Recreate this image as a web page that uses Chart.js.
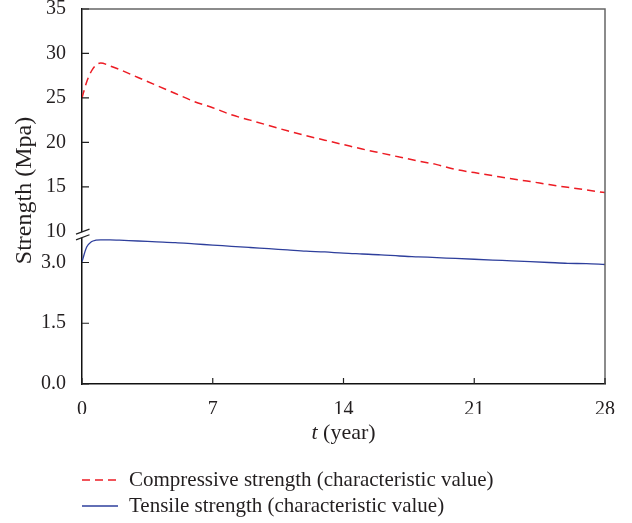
<!DOCTYPE html>
<html>
<head>
<meta charset="utf-8">
<script src="https://cdn.jsdelivr.net/npm/chart.js@4.4.1/dist/chart.umd.min.js"></script>
<style>
  html, body { margin: 0; padding: 0; background: #fff; }
</style>
</head>
<body>
<canvas id="chart" width="632" height="523"></canvas>
<script>
// === Data ===
const years = [0, 0.25, 0.5, 0.75, 1, 1.5, 2, 3, 4, 5, 6, 7, 8, 9, 10, 11, 12, 13, 14,
  15, 16, 17, 18, 19, 20, 21, 22, 23, 24, 25, 26, 27, 28];
const compressive = [25.0, 26.8, 28.0, 28.7, 28.93, 28.6, 28.2, 27.3, 26.4, 25.5, 24.6, 23.9,
  23.1, 22.5, 21.9, 21.3, 20.75, 20.25, 19.75, 19.25, 18.8, 18.35, 17.9, 17.5, 16.95, 16.6,
  16.25, 15.9, 15.6, 15.25, 14.95, 14.65, 14.35];
const tensile = [3.02, 3.38, 3.51, 3.55, 3.56, 3.56, 3.55, 3.53, 3.51, 3.49, 3.46, 3.43, 3.40,
  3.37, 3.34, 3.31, 3.28, 3.26, 3.23, 3.21, 3.19, 3.16, 3.14, 3.12, 3.10, 3.08, 3.06, 3.04,
  3.02, 3.00, 2.98, 2.97, 2.95];
const seriesNames = ["Compressive strength (characteristic value)", "Tensile strength (characteristic value)"];
const xTicks = [0, 7, 14, 21, 28];
const upperTicks = [10, 15, 20, 25, 30, 35];
const lowerTicks = [0, 1.5, 3.0];

const FONT = "'Liberation Serif', 'Times New Roman', serif";
const TEXT = "#231f20";

const toPoints = (vals) => years.map((t, i) => ({ x: t, y: vals[i] }));
const setTicks = (list) => (scale) => { scale.ticks = list.map(v => ({ value: v })); };
const fixY = (s) => { s.width = 82; s.paddingTop = 0; s.paddingBottom = 0; };

// === Frame, inward ticks, axis break, axis titles, legend ===
const decorations = {
  id: "decorations",
  afterDraw(chart) {
    const { ctx, chartArea: a, scales } = chart;
    ctx.save();

    // top / right frame
    ctx.strokeStyle = "#666";
    ctx.lineWidth = 1.5;
    ctx.beginPath();
    ctx.moveTo(a.left, a.top);
    ctx.lineTo(a.right, a.top);
    ctx.lineTo(a.right, a.bottom);
    ctx.stroke();

    // tick marks pointing inward
    ctx.strokeStyle = "#222";
    ctx.lineWidth = 1.2;
    ctx.beginPath();
    xTicks.forEach(v => {
      const x = scales.x.getPixelForValue(v);
      ctx.moveTo(x, a.bottom);
      ctx.lineTo(x, a.bottom - 6);
    });
    lowerTicks.forEach(v => {
      const y = scales.yLow.getPixelForValue(v);
      ctx.moveTo(a.left, y);
      ctx.lineTo(a.left + 7, y);
    });
    upperTicks.filter(v => v > 10).forEach(v => {
      const y = scales.yHigh.getPixelForValue(v);
      ctx.moveTo(a.left, y);
      ctx.lineTo(a.left + 7, y);
    });
    ctx.stroke();

    // axis break "//"
    const yb = scales.yHigh.bottom;
    const k = 0.376;
    const x0 = a.left - 6, x1 = a.left + 7.5;
    const y1 = (x) => yb + 0.6 - (x - a.left) * k;
    const y2 = (x) => yb + 6.3 - (x - a.left) * k;
    ctx.fillStyle = "#fff";
    ctx.beginPath();
    ctx.moveTo(x0, y1(x0));
    ctx.lineTo(x1, y1(x1));
    ctx.lineTo(x1, y2(x1));
    ctx.lineTo(x0, y2(x0));
    ctx.closePath();
    ctx.fill();
    ctx.strokeStyle = "#222";
    ctx.beginPath();
    ctx.moveTo(x0, y1(x0)); ctx.lineTo(x1, y1(x1));
    ctx.moveTo(x0, y2(x0)); ctx.lineTo(x1, y2(x1));
    ctx.stroke();

    // x title: italic t + " (year)"
    ctx.fillStyle = TEXT;
    ctx.textBaseline = "middle";
    ctx.textAlign = "left";
    const italic = "italic 22px " + FONT;
    const normal = "22px " + FONT;
    ctx.font = italic;
    const wT = ctx.measureText("t").width;
    ctx.font = normal;
    const wRest = ctx.measureText(" (year)").width;
    const xs = (a.left + a.right) / 2 - (wT + wRest) / 2;
    const yTitle = 433;
    ctx.font = italic;
    ctx.fillText("t", xs, yTitle);
    ctx.font = normal;
    ctx.fillText(" (year)", xs + wT, yTitle);

    // y title
    ctx.save();
    ctx.translate(25, (a.top + a.bottom) / 2 - 6);
    ctx.rotate(-Math.PI / 2);
    ctx.textAlign = "center";
    ctx.font = "24px " + FONT;
    ctx.fillText("Strength (Mpa)", 0, 0);
    ctx.restore();

    // legend
    chart.data.datasets.forEach((ds, i) => {
      const y = 480 + i * 26;
      ctx.strokeStyle = ds.borderColor;
      ctx.lineWidth = ds.borderWidth;
      ctx.setLineDash(ds.borderDash || []);
      ctx.beginPath();
      ctx.moveTo(a.left, y);
      ctx.lineTo(a.left + 36, y);
      ctx.stroke();
      ctx.setLineDash([]);
      ctx.fillStyle = TEXT;
      ctx.font = "21px " + FONT;
      ctx.textAlign = "left";
      ctx.fillText(ds.label, a.left + 47, y);
    });

    ctx.restore();
  }
};

const tickFont = { family: FONT, size: 20 };

new Chart(document.getElementById("chart"), {
  type: "line",
  data: {
    datasets: [
      {
        label: seriesNames[0],
        data: toPoints(compressive),
        yAxisID: "yHigh",
        borderColor: "#ed1c24",
        borderWidth: 1.5,
        borderDash: [8, 5],
        pointRadius: 0,
        cubicInterpolationMode: "monotone",
        fill: false
      },
      {
        label: seriesNames[1],
        data: toPoints(tensile),
        yAxisID: "yLow",
        borderColor: "#2e3f9c",
        borderWidth: 1.3,
        pointRadius: 0,
        cubicInterpolationMode: "monotone",
        fill: false
      }
    ]
  },
  options: {
    responsive: false,
    animation: false,
    layout: { autoPadding: false, padding: { top: 9, right: 27, bottom: 109, left: 0 } },
    plugins: { legend: { display: false }, tooltip: { enabled: false } },
    scales: {
      x: {
        type: "linear",
        min: 0,
        max: 28,
        afterBuildTicks: setTicks(xTicks),
        afterFit: (s) => { s.height = 30; s.paddingLeft = 0; s.paddingRight = 0; },
        grid: { display: false },
        border: { color: "#111", width: 1.5 },
        ticks: { font: tickFont, color: TEXT, padding: 6, autoSkip: false, maxRotation: 0 }
      },
      yLow: {
        type: "linear",
        position: "left",
        stack: "strength",
        stackWeight: 152.5,
        min: 0,
        max: 3.77,
        afterBuildTicks: setTicks(lowerTicks),
        afterFit: fixY,
        grid: { display: false },
        border: { color: "#111", width: 1.5 },
        ticks: { font: tickFont, color: TEXT, padding: 8, autoSkip: false, callback: (v) => v.toFixed(1) }
      },
      yHigh: {
        type: "linear",
        position: "left",
        stack: "strength",
        stackWeight: 222,
        min: 10,
        max: 35,
        afterBuildTicks: setTicks(upperTicks),
        afterFit: fixY,
        grid: { display: false },
        border: { color: "#111", width: 1.5 },
        ticks: { font: tickFont, color: TEXT, padding: 8, autoSkip: false }
      }
    }
  },
  plugins: [decorations]
});
</script>
</body>
</html>
